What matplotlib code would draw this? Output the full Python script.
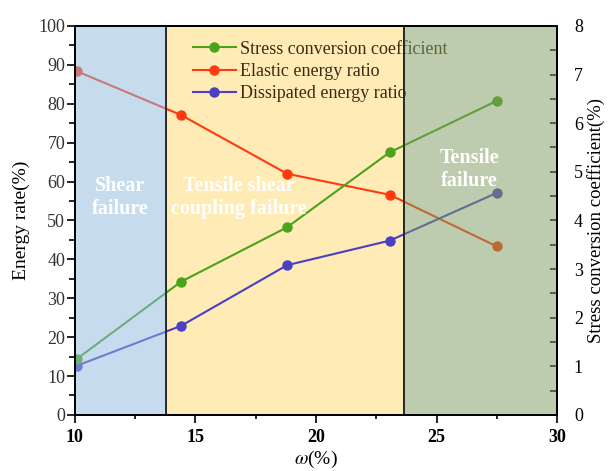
import matplotlib
matplotlib.use("Agg")
import matplotlib.pyplot as plt
from matplotlib.ticker import MultipleLocator

plt.rcParams['font.family'] = ['Liberation Serif', 'DejaVu Serif']
plt.rcParams['mathtext.fontset'] = 'stix'

# Data
water = [10.1, 14.4, 18.8, 23.05, 27.5]
stress_coef = [1.16, 2.74, 3.86, 5.40, 6.46]
elastic_ratio = [88.3, 77.1, 62.0, 56.6, 43.3]
dissipated_ratio = [12.7, 22.9, 38.5, 44.8, 57.1]
zones = [(10, 13.77), (13.77, 23.66), (23.66, 30)]
zone_labels = ["Shear\nfailure", "Tensile shear\ncoupling failure", "Tensile\nfailure"]
zone_label_pos = [(11.87, 55.8), (16.8, 55.8), (26.35, 63.2)]

fig = plt.figure(figsize=(6.09, 4.71), dpi=100)
ax = fig.add_axes([0.123, 0.119, 0.792, 0.826])
ax2 = ax.twinx()

# yellow zone under lines
ax.axvspan(*zones[1], facecolor='#ffebb5', edgecolor='#222222', lw=1.2, zorder=0)

c_green = '#4aa31a'
c_red = '#ff3a10'
c_purple = '#4b3fc4'

l2, = ax.plot(water, elastic_ratio, '-o', color=c_red, lw=1.5, ms=6.5,
              mec=c_red, zorder=2, label='Elastic energy ratio')
l3, = ax.plot(water, dissipated_ratio, '-o', color=c_purple, lw=1.5, ms=6.5,
              mec=c_purple, zorder=2, label='Dissipated energy ratio')
l1, = ax2.plot(water, stress_coef, '-o', color=c_green, lw=1.5, ms=6.5,
               mec=c_green, zorder=2.05, label='Stress conversion coefficient')

leg = ax2.legend(handles=[l1, l2, l3], loc='upper left',
                 bbox_to_anchor=(0.222, 0.99), frameon=False, fontsize=13,
                 handlelength=2.4, handletextpad=0.2, labelspacing=0.3,
                 borderaxespad=0.2, labelcolor='#3a2c10')
leg.set_zorder(2.0)

# overlays (blue and green zones) on top of lines
ax2.axvspan(*zones[0], facecolor=(145/255, 185/255, 225/255), alpha=0.5,
            edgecolor='none', zorder=2.2)
ax2.axvspan(*zones[2], facecolor=(125/255, 155/255, 95/255), alpha=0.5,
            edgecolor='none', zorder=2.2)
for xb in (zones[0][1], zones[1][1]):
    ax2.axvline(xb, color='#222222', lw=1.2, zorder=2.3)

for (x, y), t in zip(zone_label_pos, zone_labels):
    ax2.text(x, y * 0.08, t, ha='center', va='center', color='white',
             fontsize=14.5, fontweight='bold', linespacing=1.2, zorder=10)

ax.set_xlim(10, 30)
ax.set_ylim(0, 100)
ax2.set_ylim(0, 8)

ax.xaxis.set_major_locator(MultipleLocator(5))
ax.xaxis.set_minor_locator(MultipleLocator(2.5))
ax.yaxis.set_major_locator(MultipleLocator(10))
ax.yaxis.set_minor_locator(MultipleLocator(5))
ax2.yaxis.set_major_locator(MultipleLocator(1))
ax2.yaxis.set_minor_locator(MultipleLocator(0.5))

ax.tick_params(axis='x', which='both', direction='out', top=False)
ax.tick_params(axis='x', which='major', length=6, width=1.2, labelsize=13, pad=4)
ax.tick_params(axis='x', which='minor', length=3, width=1.2)
for lab in ax.get_xticklabels():
    lab.set_fontweight('bold')
ax.tick_params(axis='y', which='both', direction='out', right=False)
ax.tick_params(axis='y', which='major', length=6, width=1.2, labelsize=13,
               labelcolor='#333333', pad=1)
ax.tick_params(axis='y', which='minor', length=4, width=1.2)
ax2.tick_params(axis='y', which='both', direction='in')
ax2.tick_params(axis='y', which='major', length=5, width=1.2, labelsize=13, pad=12)
ax2.tick_params(axis='y', which='minor', length=5, width=1.2)

for a in (ax, ax2):
    for s in a.spines.values():
        s.set_linewidth(1.4)
        s.set_zorder(2.5)

ax.set_xlabel(r'$\omega$(%)', fontsize=14, labelpad=2)
ax.set_ylabel('Energy rate(%)', fontsize=14, labelpad=6)
ax2.set_ylabel('Stress conversion coefficient(%)', fontsize=13.5, labelpad=3)

fig.savefig('out.png', dpi=100)
